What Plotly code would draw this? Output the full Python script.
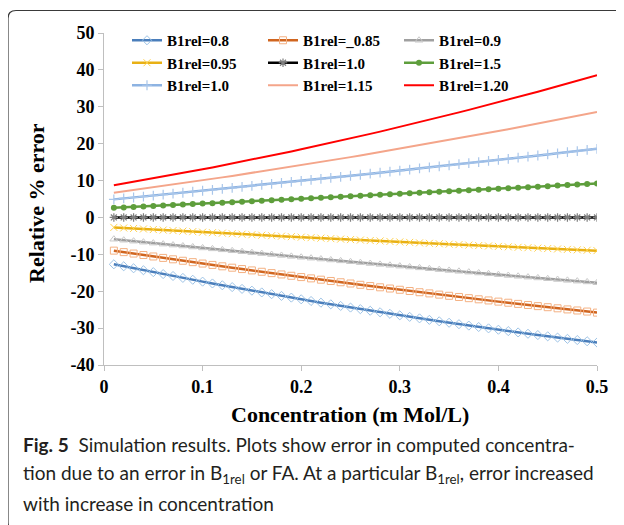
import plotly.graph_objects as go

conc = [0.01, 0.02, 0.03, 0.04, 0.05, 0.06, 0.07, 0.08, 0.09, 0.10,
        0.11, 0.12, 0.13, 0.14, 0.15, 0.16, 0.17, 0.18, 0.19, 0.20,
        0.21, 0.22, 0.23, 0.24, 0.25, 0.26, 0.27, 0.28, 0.29, 0.30,
        0.31, 0.32, 0.33, 0.34, 0.35, 0.36, 0.37, 0.38, 0.39, 0.40,
        0.41, 0.42, 0.43, 0.44, 0.45, 0.46, 0.47, 0.48, 0.49, 0.50]

b1_080 = [-12.70, -13.24, -13.78, -14.31, -14.83, -15.35, -15.87, -16.39, -16.89, -17.40,
          -17.90, -18.39, -18.88, -19.37, -19.85, -20.33, -20.80, -21.27, -21.73, -22.19,
          -22.65, -23.10, -23.55, -23.99, -24.43, -24.86, -25.29, -25.71, -26.13, -26.54,
          -26.95, -27.36, -27.76, -28.16, -28.55, -28.94, -29.32, -29.70, -30.07, -30.44,
          -30.81, -31.17, -31.53, -31.88, -32.23, -32.57, -32.91, -33.24, -33.57, -33.90]
b1_085 = [-9.00, -9.40, -9.79, -10.19, -10.58, -10.97, -11.35, -11.74, -12.12, -12.50,
          -12.87, -13.25, -13.62, -13.99, -14.36, -14.73, -15.09, -15.45, -15.81, -16.17,
          -16.52, -16.87, -17.22, -17.57, -17.91, -18.26, -18.60, -18.94, -19.27, -19.60,
          -19.94, -20.27, -20.59, -20.92, -21.24, -21.56, -21.88, -22.19, -22.50, -22.82,
          -23.12, -23.43, -23.73, -24.04, -24.33, -24.63, -24.93, -25.22, -25.51, -25.80]
b1_090 = [-5.90, -6.17, -6.43, -6.70, -6.96, -7.23, -7.49, -7.75, -8.01, -8.27,
          -8.52, -8.78, -9.04, -9.29, -9.54, -9.79, -10.05, -10.30, -10.54, -10.79,
          -11.04, -11.28, -11.53, -11.77, -12.01, -12.25, -12.49, -12.73, -12.97, -13.20,
          -13.44, -13.67, -13.91, -14.14, -14.37, -14.60, -14.83, -15.06, -15.28, -15.51,
          -15.73, -15.95, -16.18, -16.40, -16.62, -16.83, -17.05, -17.27, -17.48, -17.70]
b1_095 = [-2.70, -2.85, -2.99, -3.13, -3.28, -3.42, -3.56, -3.71, -3.85, -3.99,
          -4.13, -4.26, -4.40, -4.54, -4.68, -4.81, -4.95, -5.08, -5.21, -5.35,
          -5.48, -5.61, -5.74, -5.87, -6.00, -6.13, -6.26, -6.38, -6.51, -6.64,
          -6.76, -6.89, -7.01, -7.13, -7.25, -7.37, -7.50, -7.62, -7.73, -7.85,
          -7.97, -8.09, -8.20, -8.32, -8.43, -8.55, -8.66, -8.78, -8.89, -9.00]
b1_100 = [0.0] * 50
b1_150 = [2.60, 2.72, 2.85, 2.98, 3.11, 3.24, 3.36, 3.49, 3.62, 3.75,
          3.88, 4.01, 4.14, 4.27, 4.40, 4.54, 4.67, 4.80, 4.93, 5.06,
          5.20, 5.33, 5.46, 5.60, 5.73, 5.87, 6.00, 6.14, 6.27, 6.41,
          6.55, 6.68, 6.82, 6.96, 7.09, 7.23, 7.37, 7.51, 7.65, 7.79,
          7.93, 8.07, 8.21, 8.35, 8.49, 8.63, 8.77, 8.91, 9.05, 9.20]
b1_100b = [4.90, 5.16, 5.41, 5.67, 5.93, 6.18, 6.44, 6.70, 6.97, 7.23,
           7.49, 7.76, 8.02, 8.29, 8.56, 8.83, 9.10, 9.37, 9.64, 9.91,
           10.19, 10.46, 10.74, 11.02, 11.30, 11.58, 11.86, 12.14, 12.42, 12.71,
           12.99, 13.28, 13.56, 13.85, 14.14, 14.43, 14.72, 15.01, 15.31, 15.60,
           15.90, 16.19, 16.49, 16.79, 17.09, 17.39, 17.69, 18.00, 18.30, 18.61]
b1_115 = [6.70, 7.06, 7.42, 7.79, 8.16, 8.54, 8.92, 9.30, 9.68, 10.07,
          10.47, 10.86, 11.26, 11.67, 12.08, 12.49, 12.90, 13.32, 13.74, 14.17,
          14.60, 15.03, 15.46, 15.90, 16.35, 16.79, 17.25, 17.70, 18.16, 18.62,
          19.08, 19.55, 20.02, 20.50, 20.98, 21.46, 21.95, 22.44, 22.93, 23.43,
          23.93, 24.44, 24.94, 25.45, 25.97, 26.49, 27.01, 27.54, 28.07, 28.60]
b1_120 = [8.70, 9.16, 9.62, 10.09, 10.57, 11.05, 11.54, 12.03, 12.53, 13.04,
          13.55, 14.07, 14.60, 15.13, 15.67, 16.22, 16.77, 17.33, 17.90, 18.47,
          19.04, 19.63, 20.22, 20.82, 21.42, 22.03, 22.65, 23.27, 23.90, 24.53,
          25.17, 25.82, 26.48, 27.14, 27.80, 28.48, 29.16, 29.84, 30.54, 31.23,
          31.94, 32.65, 33.37, 34.09, 34.83, 35.56, 36.31, 37.06, 37.81, 38.58]

names = ["B1rel=0.8", "B1rel=_0.85", "B1rel=0.9", "B1rel=0.95", "B1rel=1.0",
         "B1rel=1.5", "B1rel=1.0", "B1rel=1.15", "B1rel=1.20"]

x_ticks = [0, 0.1, 0.2, 0.3, 0.4, 0.5]
x_ticktext = ["0", "0.1", "0.2", "0.3", "0.4", "0.5"]
y_ticks = [-40, -30, -20, -10, 0, 10, 20, 30, 40, 50]
y_ticktext = ["-40", "-30", "-20", "-10", "0", "10", "20", "30", "40", "50"]

# page has an 8px body margin: the figure is placed at (8, 8)
OFF = 8
W, H = 624 - OFF, 525 - OFF
# plot area in page pixels
PX0, PX1, PY0, PY1 = 104, 597, 33, 365
L, T = PX0 - OFF, PY0 - OFF
R, B = W - (PX1 - OFF), H - (PY1 - OFF)
PW, PH = PX1 - PX0, PY1 - PY0


def px(xp):
    return (xp - PX0) / PW


def py(yp):
    return (PY1 - yp) / PH


series = [
    (b1_080, names[0], "#4A7EBB", 2.5, dict(symbol="diamond-open", size=7, color="#9DC3E6", line=dict(width=1)), "legend"),
    (b1_085, names[1], "#D0651F", 2.5, dict(symbol="square-open", size=7, color="#F4B183", line=dict(width=1)), "legend2"),
    (b1_090, names[2], "#A0A0A0", 2.5, dict(symbol="triangle-up-open", size=7, color="#C9C9C9", line=dict(width=1)), "legend3"),
    (b1_095, names[3], "#E8B014", 2.5, dict(symbol="x-thin-open", size=7, color="#FFD24D", line=dict(width=1)), "legend"),
    (b1_100, names[4], "#000000", 2.5, dict(symbol="asterisk-open", size=7, color="#7F7F7F", line=dict(width=1.2)), "legend2"),
    (b1_150, names[5], "#5E9E3C", 2.5, dict(symbol="circle", size=6, color="#5E9E3C"), "legend3"),
    (b1_100b, names[6], "#8DB3E2", 2.5, dict(symbol="cross-thin-open", size=7, color="#A9C6EA", line=dict(width=1.2)), "legend"),
    (b1_115, names[7], "#F4A58A", 2.0, None, "legend2"),
    (b1_120, names[8], "#FF0000", 2.0, None, "legend3"),
]

fig = go.Figure()
for ys, nm, col, lw, mk, lg in series:
    if mk is None:
        fig.add_trace(go.Scatter(x=conc, y=ys, name=nm, mode="lines",
                                 line=dict(color=col, width=lw), legend=lg))
    else:
        fig.add_trace(go.Scatter(x=conc, y=ys, name=nm, mode="lines+markers",
                                 line=dict(color=col, width=lw), marker=mk, legend=lg))

serif_bold = dict(family="Liberation Serif", size=18, color="#000000", weight="bold")
leg_font = dict(family="Liberation Serif", size=15, color="#000000", weight="bold")

legend_common = dict(orientation="v", yanchor="top", xanchor="left",
                     bgcolor="rgba(0,0,0,0)", font=leg_font, itemwidth=30,
                     tracegroupgap=0, traceorder="normal")

LEG_TOP = 24
fig.update_layout(
    width=W, height=H,
    margin=dict(l=L, r=R, t=T, b=B, autoexpand=False),
    paper_bgcolor="white", plot_bgcolor="white",
    showlegend=True,
    legend=dict(x=px(127), y=py(LEG_TOP), **legend_common),
    legend2=dict(x=px(263), y=py(LEG_TOP), **legend_common),
    legend3=dict(x=px(399), y=py(LEG_TOP), **legend_common),
    xaxis=dict(range=[0, 0.5], tickvals=x_ticks, ticktext=x_ticktext,
               showgrid=False, zeroline=False, showline=True, linecolor="#BFBFBF",
               linewidth=1, ticks="outside", ticklen=5, tickcolor="#BFBFBF",
               tickfont=serif_bold),
    yaxis=dict(range=[-40, 50], tickvals=y_ticks, ticktext=y_ticktext,
               showgrid=False, zeroline=False, showline=True, linecolor="#BFBFBF",
               linewidth=1, ticks="outside", ticklen=5, tickcolor="#BFBFBF",
               tickfont=serif_bold),
)

title_font = dict(family="Liberation Serif", size=22, color="#000000", weight="bold")
fig.add_annotation(text="Concentration (m Mol/L)", xref="paper", yref="paper",
                   x=px(350), y=py(414), xanchor="center", yanchor="middle",
                   showarrow=False, font=title_font)
fig.add_annotation(text="Relative % error", xref="paper", yref="paper",
                   x=px(37), y=py(203), xanchor="center", yanchor="middle",
                   textangle=-90, showarrow=False, font=title_font)

cap_font = dict(family="Lato", size=19, color="#231F20")
caption_lines = [
    "<b>Fig. 5</b>  Simulation results. Plots show error in computed concentra-",
    "tion due to an error in B<sub>1rel</sub> or FA. At a particular B<sub>1rel</sub>, error increased",
    "with increase in concentration",
]
caption_y = [444, 474, 503]
for t, yy in zip(caption_lines, caption_y):
    fig.add_annotation(text=t, xref="paper", yref="paper", x=px(21), y=py(yy),
                       xanchor="left", yanchor="middle", showarrow=False,
                       font=cap_font, align="left")

# rounded border of the figure panel
xl, xr = px(8), px(640)
yt, yb = py(10.5), py(530)
rx, ry = 8 / PW, 8 / PH
path = (f"M {xr},{yt} L {xl + rx},{yt} Q {xl},{yt} {xl},{yt - ry} "
        f"L {xl},{yb + ry} Q {xl},{yb} {xl + rx},{yb} L {xr},{yb}")
fig.add_shape(type="path", path=path, xref="paper", yref="paper",
              line=dict(color="#3A3A3A", width=1.2), layer="above")

fig.write_html("out.html")
